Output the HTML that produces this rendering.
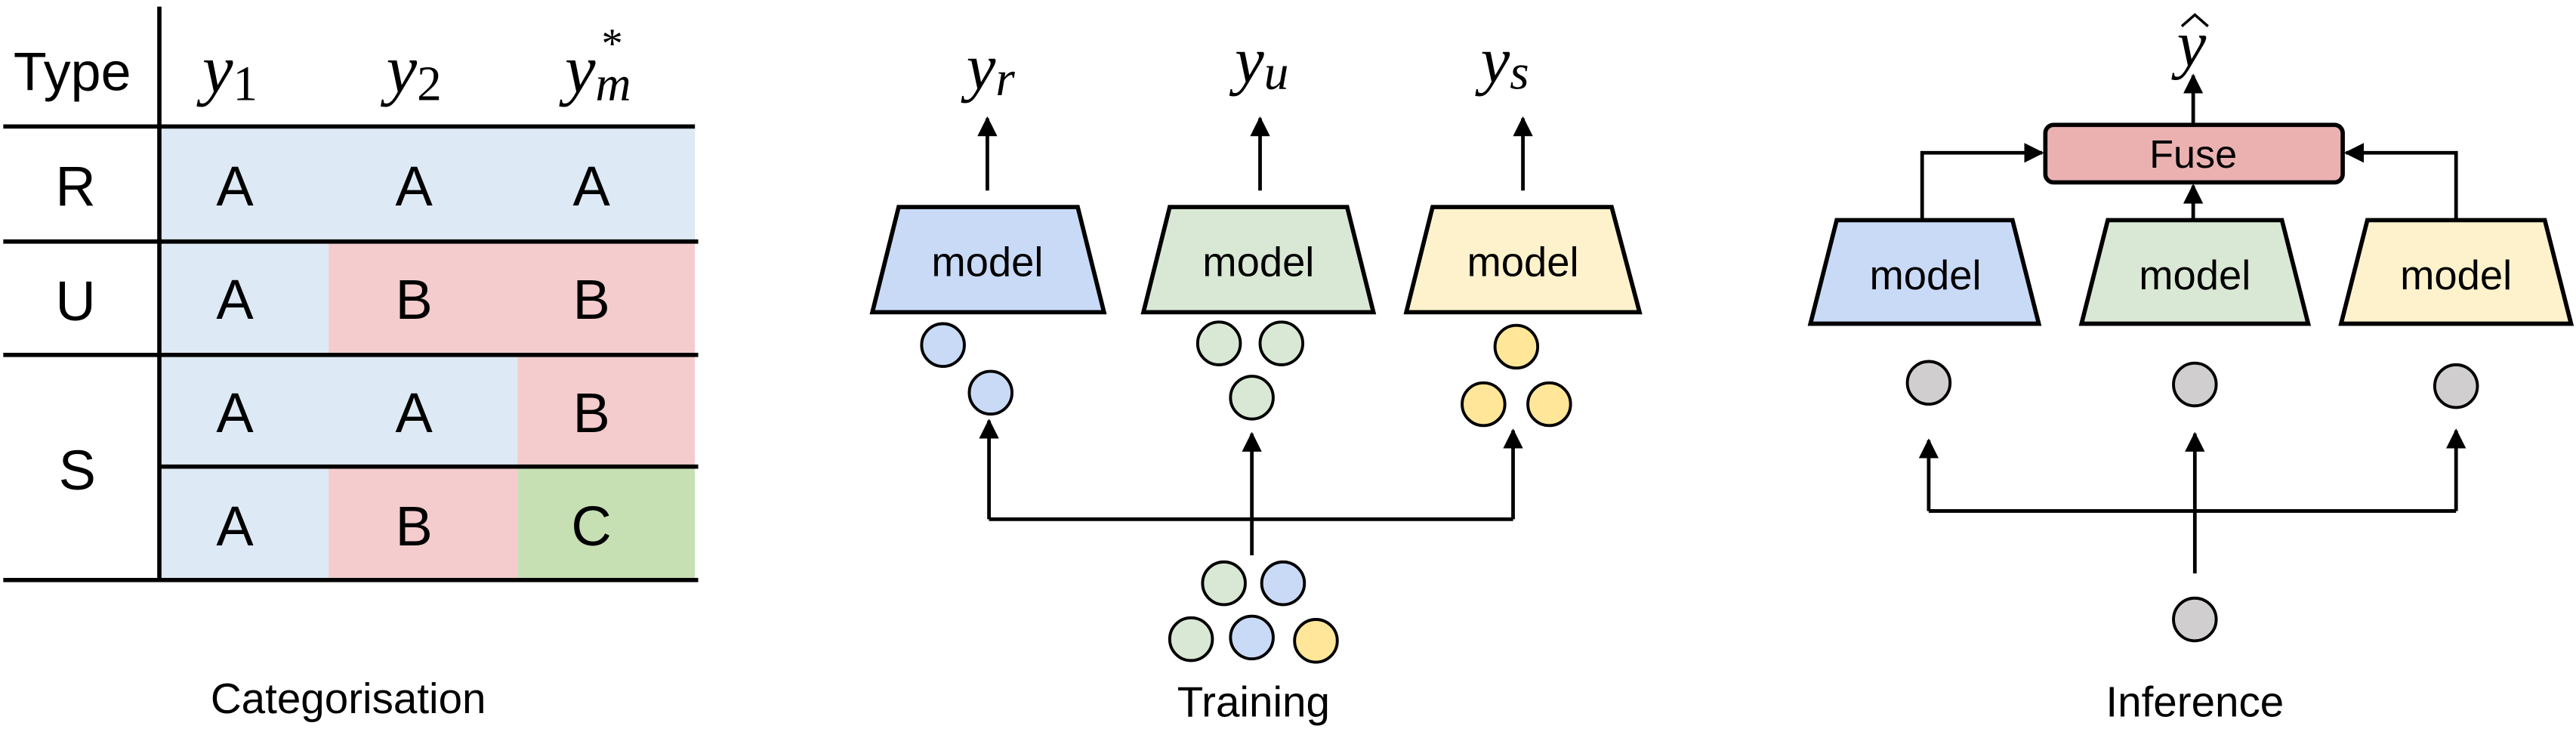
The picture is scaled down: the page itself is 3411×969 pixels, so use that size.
<!DOCTYPE html>
<html><head><meta charset="utf-8"><style>
html,body{margin:0;padding:0;background:#fff;}
svg{display:block;}
text{font-family:"Liberation Sans",sans-serif;fill:#000;}
.m{font-family:"Liberation Serif",serif;font-style:italic;}
</style></head><body>
<svg width="3411" height="969" viewBox="0 0 1568 445.5" preserveAspectRatio="none">
<defs><marker id="ah" viewBox="0 0 10 10" refX="9" refY="5" markerWidth="5.5" markerHeight="5.5" orient="auto-start-reverse"><path d="M0,0L10,5L0,10z" fill="#000"/></marker></defs>

<!-- Categorisation table -->
<g>
<rect x="97" y="77" width="326" height="70" fill="#dde9f5"/>
<rect x="97" y="147" width="103" height="69" fill="#dde9f5"/>
<rect x="200" y="147" width="223" height="69" fill="#f4cccd"/>
<rect x="97" y="216" width="218" height="68" fill="#dde9f5"/>
<rect x="315" y="216" width="108" height="68" fill="#f4cccd"/>
<rect x="97" y="284" width="103" height="69" fill="#dde9f5"/>
<rect x="200" y="284" width="115" height="69" fill="#f4cccd"/>
<rect x="315" y="284" width="108" height="69" fill="#c6e0b4"/>
<g stroke="#000" stroke-width="2.6">
<line x1="97" y1="4" x2="97" y2="354"/>
<line x1="2" y1="77" x2="423" y2="77"/>
<line x1="2" y1="147" x2="425" y2="147"/>
<line x1="2" y1="216" x2="425" y2="216"/>
<line x1="97" y1="284" x2="425" y2="284"/>
<line x1="2" y1="353" x2="425" y2="353"/>
</g>
<text x="44" y="55" font-size="33" text-anchor="middle">Type</text>
<text x="140" y="56" font-size="42" class="m" text-anchor="middle">y<tspan font-style="normal" font-size="30" dy="5">1</tspan></text>
<text x="252" y="56" font-size="42" class="m" text-anchor="middle">y<tspan font-style="normal" font-size="30" dy="5">2</tspan></text>
<text x="364" y="56" font-size="42" class="m" text-anchor="middle">y<tspan font-size="30" dy="5">m</tspan><tspan font-style="normal" font-size="26" dx="-18" dy="-26">*</tspan></text>
<g font-size="34" text-anchor="middle">
<text x="46" y="125">R</text>
<text x="46" y="195">U</text>
<text x="47" y="298">S</text>
<text x="143" y="125">A</text><text x="252" y="125">A</text><text x="360" y="125">A</text>
<text x="143" y="194">A</text><text x="252" y="194">B</text><text x="360" y="194">B</text>
<text x="143" y="263">A</text><text x="252" y="263">A</text><text x="360" y="263">B</text>
<text x="143" y="332">A</text><text x="252" y="332">B</text><text x="360" y="332">C</text>
</g>
<text x="212" y="434" font-size="26" text-anchor="middle">Categorisation</text>
</g>

<!-- Training -->
<g>
<text x="603" y="54" font-size="40" class="m" text-anchor="middle">y<tspan font-size="30" dy="4">r</tspan></text>
<text x="768" y="50" font-size="40" class="m" text-anchor="middle">y<tspan font-size="30" dy="4">u</tspan></text>
<text x="916" y="50" font-size="40" class="m" text-anchor="middle">y<tspan font-size="30" dy="4">s</tspan></text>
<g stroke="#000" stroke-width="2.2" fill="none" marker-end="url(#ah)">
<line x1="601" y1="116" x2="601" y2="72"/>
<line x1="767" y1="116" x2="767" y2="72"/>
<line x1="927" y1="116" x2="927" y2="72"/>
</g>
<polygon points="547,126 656,126 672,190 531,190" fill="#c9daf7" stroke="#000" stroke-width="2.6"/>
<polygon points="712,126 820,126 836,190 696,190" fill="#d9e8d4" stroke="#000" stroke-width="2.6"/>
<polygon points="872,126 981,126 998,190 856,190" fill="#fdf2cc" stroke="#000" stroke-width="2.6"/>
<g font-size="25" text-anchor="middle"><text x="601" y="168">model</text><text x="766" y="168">model</text><text x="927" y="168">model</text></g>
<g stroke="#000" stroke-width="1.8">
<ellipse cx="574" cy="210" rx="13" ry="13" fill="#c9daf7"/>
<ellipse cx="603" cy="239" rx="13" ry="13" fill="#c9daf7"/>
<ellipse cx="742" cy="209" rx="13" ry="13" fill="#d9e8d4"/>
<ellipse cx="780" cy="209" rx="13" ry="13" fill="#d9e8d4"/>
<ellipse cx="762" cy="242" rx="13" ry="13" fill="#d9e8d4"/>
<ellipse cx="923" cy="211" rx="13" ry="13" fill="#ffe699"/>
<ellipse cx="903" cy="246" rx="13" ry="13" fill="#ffe699"/>
<ellipse cx="943" cy="246" rx="13" ry="13" fill="#ffe699"/>
<ellipse cx="745" cy="355" rx="13" ry="13" fill="#d9e8d4"/>
<ellipse cx="781" cy="355" rx="13" ry="13" fill="#c9daf7"/>
<ellipse cx="725" cy="389" rx="13" ry="13" fill="#d9e8d4"/>
<ellipse cx="762" cy="388" rx="13" ry="13" fill="#c9daf7"/>
<ellipse cx="801" cy="390" rx="13" ry="13" fill="#ffe699"/>
</g>
<g stroke="#000" stroke-width="2.2" fill="none">
<polyline points="602,316 921,316"/>
<line x1="602" y1="316" x2="602" y2="256" marker-end="url(#ah)"/>
<line x1="921" y1="316" x2="921" y2="262" marker-end="url(#ah)"/>
<line x1="762" y1="338" x2="762" y2="264" marker-end="url(#ah)"/>
</g>
<text x="763" y="436" font-size="26" text-anchor="middle">Training</text>
</g>

<!-- Inference -->
<g>
<text x="1334" y="40" font-size="40" class="m" text-anchor="middle">y</text>
<path d="M1328,16 L1336,9 L1344,16" stroke="#000" stroke-width="1.6" fill="none"/>
<g stroke="#000" stroke-width="2.2" fill="none">
<line x1="1335" y1="76" x2="1335" y2="46" marker-end="url(#ah)"/>
<polyline points="1170,134 1170,93 1243,93" marker-end="url(#ah)"/>
<polyline points="1495,134 1495,93 1428,93" marker-end="url(#ah)"/>
<line x1="1335" y1="134" x2="1335" y2="113" marker-end="url(#ah)"/>
</g>
<rect x="1245" y="76" width="181" height="35" rx="5" fill="#ebb1b1" stroke="#000" stroke-width="2.6"/>
<text x="1335" y="102" font-size="24" text-anchor="middle">Fuse</text>
<polygon points="1118,134 1225,134 1241,197 1102,197" fill="#c9daf7" stroke="#000" stroke-width="2.6"/>
<polygon points="1283,134 1389,134 1405,197 1267,197" fill="#d9e8d4" stroke="#000" stroke-width="2.6"/>
<polygon points="1441,134 1549,134 1565,197 1425,197" fill="#fdf2cc" stroke="#000" stroke-width="2.6"/>
<g font-size="25" text-anchor="middle"><text x="1172" y="176">model</text><text x="1336" y="176">model</text><text x="1495" y="176">model</text></g>
<g stroke="#000" stroke-width="1.8" fill="#d0cece">
<ellipse cx="1174" cy="233" rx="13" ry="13"/>
<ellipse cx="1336" cy="234" rx="13" ry="13"/>
<ellipse cx="1495" cy="235" rx="13" ry="13"/>
<ellipse cx="1336" cy="377" rx="13" ry="13"/>
</g>
<g stroke="#000" stroke-width="2.2" fill="none">
<polyline points="1174,311 1495,311"/>
<line x1="1174" y1="311" x2="1174" y2="268" marker-end="url(#ah)"/>
<line x1="1495" y1="311" x2="1495" y2="262" marker-end="url(#ah)"/>
<line x1="1336" y1="349" x2="1336" y2="264" marker-end="url(#ah)"/>
</g>
<text x="1336" y="436" font-size="26" text-anchor="middle">Inference</text>
</g>
</svg>
</body></html>
